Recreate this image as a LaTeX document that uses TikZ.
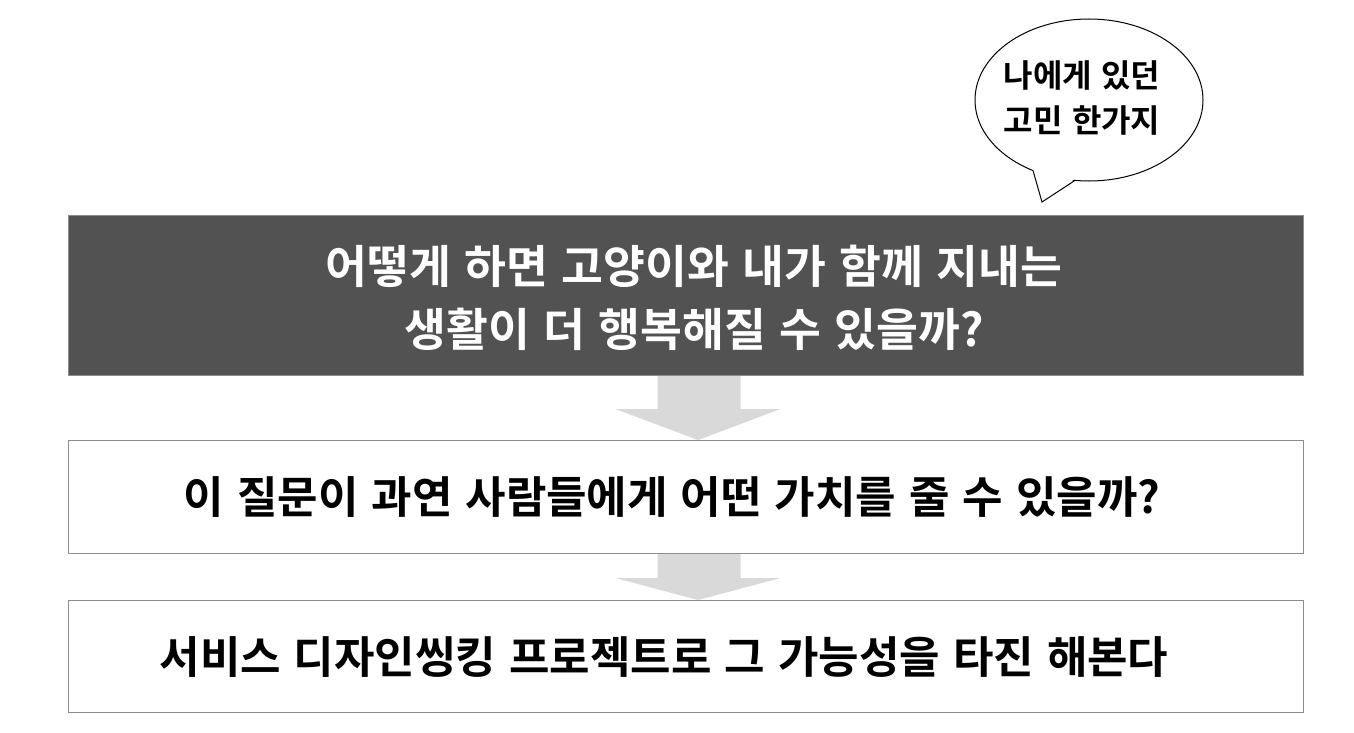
\documentclass[tikz,border=0pt]{standalone}
\usepackage{fontspec}
\newfontfamily\kr{Noto Sans CJK KR}[BoldFont={Noto Sans CJK KR Bold}, WordSpace={1.3}]
\usetikzlibrary{shapes.geometric,calc}
\definecolor{darkbox}{HTML}{525252}
\definecolor{boxline}{HTML}{8C8C8C}
\definecolor{arrowgrey}{HTML}{D9D9D9}
\tikzset{
  stepbox/.style={draw=boxline, line width=1pt, minimum width=1235pt, inner sep=0pt, anchor=north west},
  boxtext/.style={font=\kr\bfseries\fontsize{44}{63}\selectfont, align=center, inner sep=0pt},
  bubbletext/.style={font=\kr\bfseries\fontsize{32}{44}\selectfont, align=center, inner sep=0pt},
  flowarrow/.style={fill=arrowgrey}
}
\begin{document}
\begin{tikzpicture}[x=1pt,y=-1pt]
\useasboundingbox[fill=white] (0,0) rectangle (1354,733);
% boxes
\node[stepbox, fill=darkbox, minimum height=160pt] (b1) at (68,215) {};
\node[stepbox, fill=white, minimum height=113pt] (b2) at (68,440) {};
\node[stepbox, fill=white, minimum height=112pt] (b3) at (68,600) {};
% texts
\node[boxtext, text=white, font=\kr\bfseries\fontsize{45.5}{63}\selectfont] (t1) at ($(b1.center)+(8,2)$) {어떻게 하면 고양이와 내가 함께 지내는\\생활이 더 행복해질 수 있을까?};
\node[boxtext] (t2) at ($(b2.center)+(-14,0)$) {이 질문이 과연 사람들에게 어떤 가치를 줄 수 있을까?};
\node[boxtext] (t3) at ($(b3.center)+(-22,1)$) {서비스 디자인씽킹 프로젝트로 그 가능성을 타진 해본다};
% arrows
\fill[flowarrow] ($(b1.south)+(-28.5,0)$) -- ($(b1.south)+(54.5,0)$) -- ($(b1.south)+(54.5,33)$) -- ($(b1.south)+(94.5,33)$) -- ($(b2.north)+(12,0)$) -- ($(b1.south)+(-70.5,33)$) -- ($(b1.south)+(-28.5,33)$) -- cycle;
\fill[flowarrow] ($(b2.south)+(-28.5,0)$) -- ($(b2.south)+(54.5,0)$) -- ($(b2.south)+(54.5,24)$) -- ($(b2.south)+(94.5,24)$) -- ($(b3.north)+(12,0)$) -- ($(b2.south)+(-70.5,24)$) -- ($(b2.south)+(-28.5,24)$) -- cycle;
% speech bubble
\node[ellipse, draw=black, line width=1pt, fill=white, minimum width=228pt, minimum height=162pt, inner sep=0pt] (bub) at (1089,100) {};
\node[bubbletext] (bt) at ($(bub.center)+(-7,-2)$) {나에게 있던\\고민 한가지};
\coordinate (tip) at (1042,202);
\fill[white] (1032.5,168) -- (tip) -- (1076,178) -- cycle;
\draw[line width=1pt, line join=miter] (1033,170.6) -- (tip) -- (1075,180.4);
\end{tikzpicture}
\end{document}
